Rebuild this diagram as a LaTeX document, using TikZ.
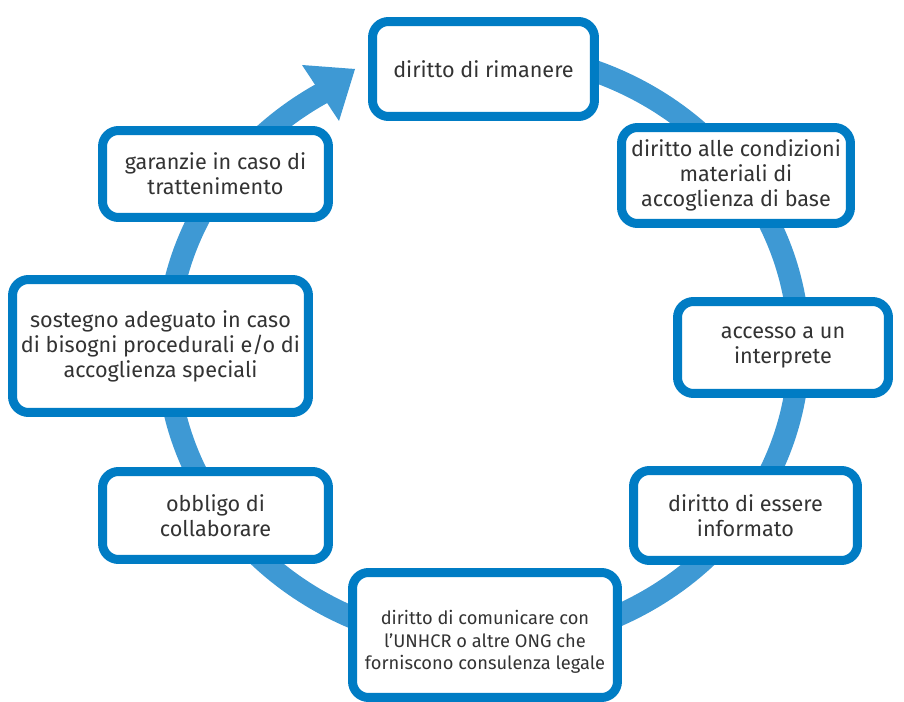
\documentclass[tikz,border=0pt]{standalone}
\usepackage{fontspec}
\setmainfont{Fira Sans}
\definecolor{boxblue}{RGB}{0,124,196}
\definecolor{ringblue}{RGB}{62,153,212}
\definecolor{txt}{RGB}{51,51,51}
\begin{document}
\begin{tikzpicture}[x=0.02cm,y=-0.02cm,
  card/.style={draw=boxblue,fill=white,line width=0.18cm,rounded corners=0.32cm,
    inner sep=0pt,align=center,text=txt,font=\fontsize{12.3}{14.2}\selectfont},
  smalltext/.style={inner sep=0pt,align=center,text=txt,font=\fontsize{10.4}{12.7}\selectfont},
  ring/.style={draw=ringblue,line width=0.44cm}]
\useasboundingbox (0,0) rectangle (904,702);
% ring
\draw[ring] plot[domain=95:-239.5,samples=240,smooth] ({483+316*cos(\x)},{348-296*sin(\x)});
\coordinate (h1) at (302,65);
\coordinate (h2) at (355,69);
\coordinate (h3) at (339,121);
\fill[ringblue] (h1) -- (h2) -- (h3) -- cycle;
% boxes
\node[card,minimum width=4.44cm,minimum height=1.90cm] (b1) at (483.5,69) {diritto di rimanere};
\node[card,minimum width=4.58cm,minimum height=1.92cm] (b2) at (736,175.5) {diritto alle condizioni\\materiali di\\accoglienza di base};
\node[card,minimum width=4.22cm,minimum height=1.84cm] (b3) at (783,347.5) {accesso a un\\interprete};
\node[card,minimum width=4.48cm,minimum height=1.80cm] (b4) at (745.5,515.5) {diritto di essere\\informato};
\node[card,minimum width=5.30cm,minimum height=2.50cm] (b5) at (485,635) {};
\node[smalltext] (b5t) at (485,642) {diritto di comunicare con\\l’UNHCR o altre ONG che\\forniscono consulenza legale};
\node[card,minimum width=4.52cm,minimum height=1.76cm] (b6) at (215.5,515.5) {obbligo di\\collaborare};
\node[card,minimum width=5.92cm,minimum height=2.66cm] (b7) at (160.5,346) {sostegno adeguato in caso\\di bisogni procedurali e/o di\\accoglienza speciali};
\node[card,minimum width=4.52cm,minimum height=1.74cm] (b8) at (215.5,174) {garanzie in caso di\\trattenimento};
\end{tikzpicture}
\end{document}
